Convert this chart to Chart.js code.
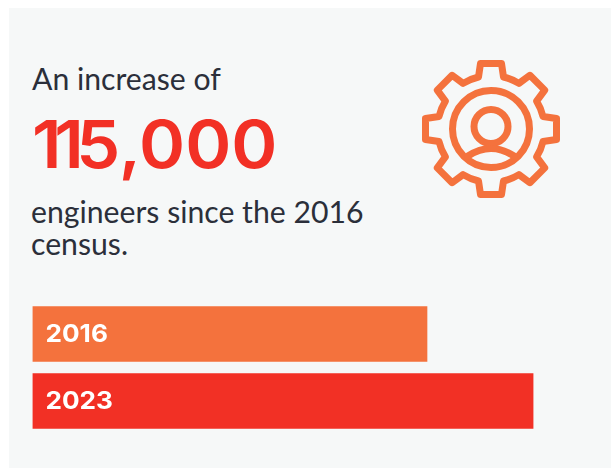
<!DOCTYPE html>
<html>
<head>
<meta charset="utf-8">
<script src="https://cdn.jsdelivr.net/npm/chart.js@4"></script>
<style>
  html, body { margin: 0; padding: 0; background: #ffffff; }
  #panel { position: absolute; left: 9px; top: 8px; width: 602px; height: 460px; background: #f6f8f8; }
  #chart { position: absolute; left: 0; top: 0; }
  .copy { position: absolute; margin: 0; white-space: nowrap; font-family: Lato, sans-serif; color: #2b2f3a; font-size: 30.2px; line-height: 32px; }
  #figure { position: absolute; left: 32px; top: 104px; margin: 0; white-space: nowrap; font-family: Inter, sans-serif; font-weight: 600; font-size: 66px; line-height: 80px; color: #f23025; transform: scaleX(1.06); transform-origin: left center; }
  #figure span { letter-spacing: -7px; }
  #gear { position: absolute; left: 411px; top: 49px; }
</style>
</head>
<body>
<div id="panel"></div>
<p class="copy" id="lead" style="left:32px;top:62px">An increase of</p>
<p id="figure"><span>11</span>5,000</p>
<p class="copy" id="tail" style="left:31px;top:195px">engineers since the 2016<br>census.</p>
<svg id="gear" width="160" height="160" viewBox="-80 -80 160 160" fill="none" stroke="#f4723d" stroke-width="7" stroke-linejoin="round">
  <path id="cog"></path>
  <circle cx="0" cy="0" r="38.5"></circle>
  <circle cx="0" cy="-2.5" r="17"></circle>
  <path d="M-23 27 Q0 12 23 27" stroke-linecap="round"></path>
</svg>
<canvas id="chart" width="611" height="468"></canvas>
<script>
// Census years and the number of engineers counted in each
const years = ['2016', '2023'];
const engineers = [426000, 541000];
const barColours = ['#f4723d', '#f23025'];

// Eight-toothed cog outline for the icon
(function buildCog() {
  const teeth = 8, outer = 65.5, root = 52, half = 10.5;
  const turn = (x, y, a) => [x * Math.cos(a) - y * Math.sin(a), x * Math.sin(a) + y * Math.cos(a)];
  let d = '';
  for (let i = 0; i < teeth; i++) {
    const a = i * 2 * Math.PI / teeth;
    const pts = [turn(-half - 2, -root, a), turn(-half, -outer, a), turn(half, -outer, a), turn(half + 2, -root, a)];
    d += (i === 0 ? 'M' : `A${root} ${root} 0 0 1 `) + pts[0].map(n => n.toFixed(2)).join(' ');
    for (let k = 1; k < 4; k++) d += 'L' + pts[k].map(n => n.toFixed(2)).join(' ');
  }
  d += `A${root} ${root} 0 0 1 ` + turn(-half - 2, -root, 0).map(n => n.toFixed(2)).join(' ') + 'Z';
  document.getElementById('cog').setAttribute('d', d);
})();

// Writes each year inside the start of its bar, slightly extended
const yearLabels = {
  id: 'yearLabels',
  afterDatasetsDraw(chart) {
    const { ctx, scales: { x, y } } = chart;
    ctx.fillStyle = '#ffffff';
    ctx.font = '700 24px Inter, sans-serif';
    ctx.textBaseline = 'middle';
    ctx.textAlign = 'left';
    years.forEach((year, i) => {
      ctx.save();
      ctx.translate(x.getPixelForValue(0) + 13, y.getPixelForValue(i) + 1);
      ctx.scale(1.09, 1);
      ctx.fillText(year, 0, 0);
      ctx.restore();
    });
  }
};

new Chart(document.getElementById('chart'), {
  type: 'bar',
  data: {
    labels: years,
    datasets: [{
      data: engineers,
      backgroundColor: barColours,
      borderWidth: 0,
      barThickness: 55
    }]
  },
  options: {
    indexAxis: 'y',
    responsive: false,
    animation: false,
    layout: { padding: { left: 32.5, right: 77.5, top: 300.5, bottom: 33.5 } },
    plugins: { legend: { display: false }, tooltip: { enabled: false } },
    scales: {
      x: { display: false, min: 0, max: 541000 },
      y: { display: false }
    }
  },
  plugins: [yearLabels]
});
</script>
</body>
</html>
